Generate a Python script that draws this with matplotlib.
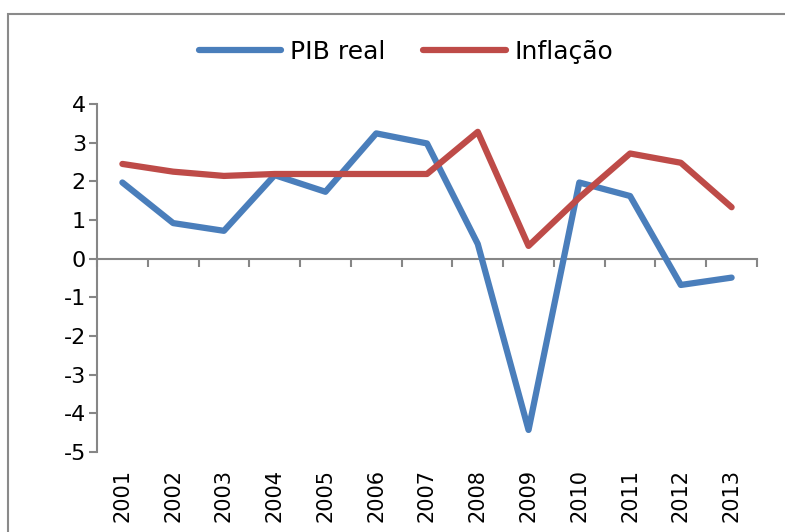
import matplotlib
matplotlib.use("Agg")
import matplotlib.pyplot as plt
from matplotlib.patches import Rectangle
import numpy as np

years = ["2001", "2002", "2003", "2004", "2005", "2006", "2007",
         "2008", "2009", "2010", "2011", "2012", "2013"]
pib_real = [1.97, 0.92, 0.72, 2.16, 1.73, 3.24, 2.98, 0.38, -4.43, 1.97, 1.62, -0.68, -0.49]
inflacao = [2.45, 2.25, 2.14, 2.19, 2.19, 2.19, 2.19, 3.28, 0.33, 1.58, 2.72, 2.48, 1.33]
y_ticks = [-5, -4, -3, -2, -1, 0, 1, 2, 3, 4]

plt.rcParams['font.family'] = ['DejaVu Sans']
plt.rcParams['axes.unicode_minus'] = False

W, H = 785, 532
fig = plt.figure(figsize=(W / 100, H / 100), dpi=100)
ax = fig.add_axes([97 / W, 1 - 452 / H, (757 - 97) / W, (452 - 104) / H])

axis_col = "#868686"
blue = "#4A7EBB"
red = "#BE4B48"

x = np.arange(len(years))
ax.plot(x, pib_real, color=blue, lw=4.5, solid_capstyle='round',
        solid_joinstyle='round', label="PIB real", zorder=3)
ax.plot(x, inflacao, color=red, lw=4.5, solid_capstyle='round',
        solid_joinstyle='round', label="Inflação", zorder=3)

ax.set_xlim(-0.5, len(years) - 0.5)
ax.set_ylim(-5, 4)
ax.set_yticks(y_ticks)
ax.set_yticklabels([str(v) for v in y_ticks], fontsize=16)
ax.tick_params(axis='y', direction='out', length=6, width=1.5, color=axis_col, pad=2)

for s in ['top', 'right']:
    ax.spines[s].set_visible(False)
ax.spines['left'].set_color(axis_col)
ax.spines['left'].set_linewidth(1.5)
ax.spines['bottom'].set_position(('data', 0))
ax.spines['bottom'].set_color(axis_col)
ax.spines['bottom'].set_linewidth(1.5)
ax.set_xticks(np.arange(-0.5, len(years), 1.0))
ax.set_xticklabels([])
ax.tick_params(axis='x', direction='out', length=6, width=1.5, color=axis_col)

sec = ax.secondary_xaxis(0.0)
sec.set_xticks(x)
sec.set_xticklabels(years, rotation=90, fontsize=15)
sec.tick_params(length=0, pad=12)
sec.spines['bottom'].set_visible(False)

leg = fig.legend(loc='center', bbox_to_anchor=(406 / W, 1 - 52 / H), ncol=2,
                 frameon=False, fontsize=18, handlelength=3.3, handletextpad=0.35,
                 columnspacing=1.5)
for l in leg.get_lines():
    l.set_linewidth(4.5)
    l.set_solid_capstyle('round')

fig.patches.append(Rectangle((8 / W, -0.1), 1.2, 1.1 - 14 / H,
                             transform=fig.transFigure, fill=False,
                             edgecolor="#8a8a8a", lw=1.5))

fig.savefig("out.png", dpi=100)
